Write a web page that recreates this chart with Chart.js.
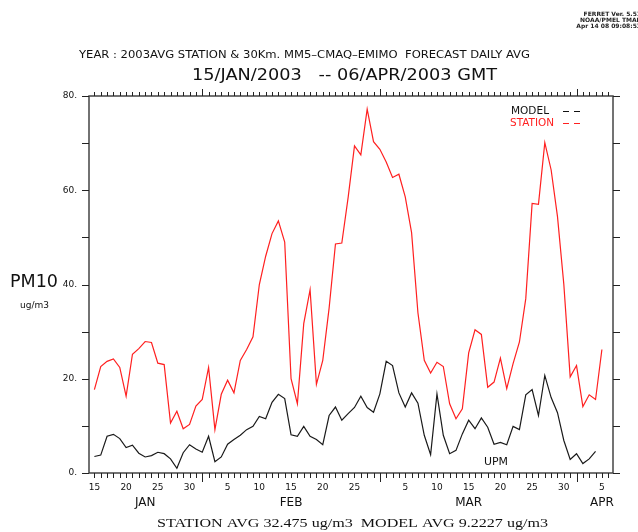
<!DOCTYPE html>
<html>
<head>
<meta charset="utf-8">
<script src="https://cdn.jsdelivr.net/npm/chart.js@4/dist/chart.umd.min.js"></script>
<style>
  body { margin: 0; background: #fff; }
  #wrap { width: 638px; height: 532px; }
</style>
</head>
<body>
<div id="wrap"><canvas id="pm10" width="638" height="532"></canvas></div>
<script>
// day index 0 = 15/JAN/2003
const station = [
  17.7, 22.6, 23.7, 24.2, 22.4, 16.3, 25.2, 26.4, 27.9, 27.7,
  23.3, 23.0, 10.6, 13.1, 9.4, 10.3, 14.2, 15.6, 22.4, 9.2,
  16.7, 19.7, 17.0, 23.9, 26.2, 28.9, 40.0, 46.0, 50.8, 53.5,
  49.0, 20.0, 14.7, 31.7, 38.9, 18.8, 23.9, 35.0, 48.6, 48.8,
  58.5, 69.4, 67.5, 77.2, 70.3, 68.7, 66.0, 62.7, 63.4, 58.6,
  51.0, 34.0, 23.9, 21.2, 23.5, 22.6, 14.7, 11.5, 13.6, 25.5,
  30.4, 29.4, 18.2, 19.3, 24.4, 17.9, 23.2, 27.8, 37.0, 57.2,
  57.0, 70.1, 64.3, 54.4, 40.0, 20.4, 22.8, 14.1, 16.6, 15.6,
  26.2
]
const model = [
  3.5, 3.8, 7.8, 8.2, 7.3, 5.4, 5.9, 4.2, 3.4, 3.7,
  4.4, 4.1, 3.0, 1.0, 4.3, 6.0, 5.1, 4.4, 7.8, 2.4,
  3.4, 6.1, 7.1, 8.0, 9.2, 9.9, 12.0, 11.5, 15.0, 16.7,
  15.8, 8.1, 7.8, 9.9, 7.8, 7.1, 6.0, 12.2, 14.0, 11.2,
  12.6, 13.9, 16.3, 13.9, 12.9, 16.8, 23.7, 22.8, 17.0, 14.0,
  17.0, 14.8, 8.0, 3.9, 16.8, 8.0, 4.1, 4.8, 8.3, 11.2,
  9.4, 11.7, 9.7, 6.1, 6.5, 6.0, 9.9, 9.2, 16.6, 17.7,
  12.2, 20.7, 16.0, 12.8, 6.9, 2.9, 4.1, 2.0, 3.0, 4.6
]

const xTickDays = [0, 5, 10, 15, 21, 26, 31, 36, 41, 49, 54, 59, 64, 69, 74, 80]
const xTickText = ['15', '20', '25', '30', '5', '10', '15', '20', '25', '5', '10', '15', '20', '25', '30', '5']
const monthDays = [8, 31, 59, 80]
const monthText = ['JAN', 'FEB', 'MAR', 'APR']
const monthStarts = [17, 45, 76]
const yTicks = [0, 20, 40, 60, 80]
const yTickText = ['0.', '20.', '40.', '60.', '80.']
const yMinor = [10, 30, 50, 70]

const toPts = arr => arr.map((v, i) => ({ x: i, y: v }))

function put(ctx, txt, x, y, font, color, align, w) {
  ctx.font = font
  ctx.fillStyle = color
  ctx.textBaseline = 'middle'
  if (w) {
    const m = ctx.measureText(txt).width
    ctx.save()
    ctx.translate(x, y)
    ctx.scale(w / m, 1)
    ctx.textAlign = 'left'
    ctx.fillText(txt, 0, 0)
    ctx.restore()
  } else {
    ctx.textAlign = align || 'left'
    ctx.fillText(txt, x, y)
  }
}

const ferretFrame = {
  id: 'ferretFrame',
  afterDraw(chart) {
    const { ctx, chartArea: a, scales: { x, y } } = chart
    ctx.save()
    ctx.strokeStyle = '#444'
    ctx.lineWidth = 1.5
    ctx.strokeRect(a.left, a.top, a.right - a.left, a.bottom - a.top)

    ctx.lineWidth = 1
    ctx.strokeStyle = '#222'
    ctx.beginPath()
    for (let d = Math.ceil(x.min); d <= Math.floor(x.max); d++) {
      const px = Math.round(x.getPixelForValue(d)) + 0.5
      const major = monthStarts.includes(d)
      ctx.moveTo(px, a.bottom); ctx.lineTo(px, a.bottom + (major ? 9 : 5))
      ctx.moveTo(px, a.top); ctx.lineTo(px, a.top - (major ? 7 : 4))
    }
    yTicks.concat(yMinor).forEach(v => {
      const py = Math.round(y.getPixelForValue(v)) + 0.5
      ctx.moveTo(a.left - 7, py); ctx.lineTo(a.left, py)
      ctx.moveTo(a.right, py); ctx.lineTo(a.right + 7, py)
    })
    ctx.stroke()

    xTickDays.forEach((d, i) => put(ctx, xTickText[i], x.getPixelForValue(d), 488, '9px "DejaVu Sans"', '#111', 'center'))
    monthDays.forEach((d, i) => put(ctx, monthText[i], x.getPixelForValue(d), 503, '12px "DejaVu Sans"', '#111', 'center'))
    yTicks.forEach((v, i) => put(ctx, yTickText[i], 77, y.getPixelForValue(v), '9px "DejaVu Sans"', '#111', 'right'))

    put(ctx, 'PM10', 10, 283, '17px "DejaVu Sans"', '#111', 'left', 48)
    put(ctx, 'ug/m3', 20, 306, '9px "DejaVu Sans"', '#111', 'left')

    put(ctx, 'YEAR : 2003AVG STATION & 30Km. MM5\u2013CMAQ\u2013EMIMO  FORECAST DAILY AVG', 79, 55, '11px "DejaVu Sans"', '#111', 'left', 451)
    put(ctx, '15/JAN/2003   -- 06/APR/2003 GMT', 192, 76, '15px "DejaVu Sans"', '#111', 'left', 305)

    put(ctx, 'MODEL', 511, 111, '10px "DejaVu Sans"', '#111', 'left', 38)
    put(ctx, 'STATION', 510, 123, '10px "DejaVu Sans"', '#ff2020', 'left', 44)
    ctx.lineWidth = 1.2
    ;[[111, '#111'], [123, '#ff2020']].forEach(([yy, c]) => {
      ctx.strokeStyle = c
      ctx.beginPath()
      ctx.moveTo(563, yy + 0.5); ctx.lineTo(569, yy + 0.5)
      ctx.moveTo(574, yy + 0.5); ctx.lineTo(580, yy + 0.5)
      ctx.stroke()
    })
    put(ctx, 'UPM', 484, 462, '10px "DejaVu Sans"', '#111', 'left', 24)

    put(ctx, 'STATION AVG 32.475 ug/m3  MODEL AVG 9.2227 ug/m3', 157, 524, '13px "Liberation Serif"', '#111', 'left', 391)

    put(ctx, 'FERRET Ver. 5.51', 641, 14, 'bold 6px "DejaVu Sans"', '#222', 'right')
    put(ctx, 'NOAA/PMEL TMAP', 641, 20, 'bold 6px "DejaVu Sans"', '#222', 'right')
    put(ctx, 'Apr 14 08 09:08:53', 641, 26, 'bold 6px "DejaVu Sans"', '#222', 'right')
    ctx.restore()
  }
}

new Chart(document.getElementById('pm10'), {
  type: 'line',
  data: {
    datasets: [{
      label: 'STATION',
      data: toPts(station),
      borderColor: '#ff2020',
      borderWidth: 1.2,
      pointRadius: 0,
      tension: 0
    }, {
      label: 'MODEL',
      data: toPts(model),
      borderColor: '#1a1a1a',
      borderWidth: 1.2,
      pointRadius: 0,
      tension: 0
    }]
  },
  options: {
    responsive: false,
    animation: false,
    layout: { padding: { left: 89, right: 25, top: 96, bottom: 59 } },
    plugins: { legend: { display: false }, tooltip: { enabled: false } },
    scales: {
      x: { type: 'linear', min: -0.85, max: 81.75, display: false },
      y: { min: 0, max: 80, display: false }
    }
  },
  plugins: [ferretFrame]
})
</script>
</body>
</html>
